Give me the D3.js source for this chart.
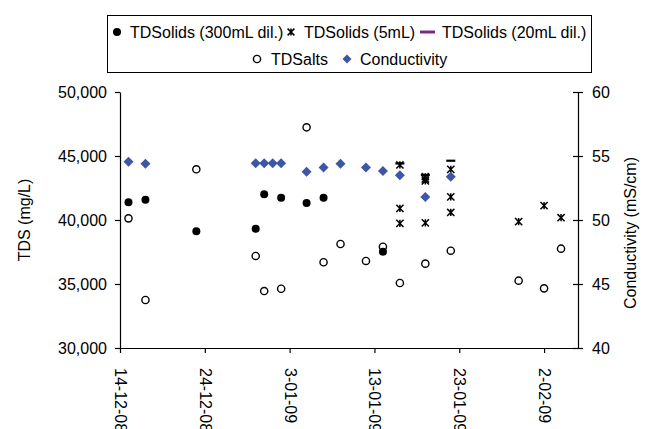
<!DOCTYPE html>
<html>
<head>
<meta charset="utf-8">
<script src="https://cdn.jsdelivr.net/npm/d3@7"></script>
<style>
  body { margin: 0; background: #fff; }
  svg text { font-family: "Liberation Sans", Arial, sans-serif; fill: #000; }
</style>
</head>
<body>
<div id="chart"></div>
<script>
// sample dates and readings
const solids300Dates = ['2008-12-15', '2008-12-17', '2008-12-23', '2008-12-30', '2008-12-31', '2009-01-02', '2009-01-05', '2009-01-07', '2009-01-14'];
const solids300Values = [41380, 41590, 39120, 39320, 42010, 41740, 41330, 41740, 37520];

const solids5Dates = ['2009-01-16', '2009-01-16', '2009-01-16', '2009-01-19', '2009-01-19', '2009-01-19', '2009-01-19', '2009-01-22', '2009-01-22', '2009-01-22', '2009-01-30', '2009-02-02', '2009-02-04'];
const solids5Values = [44300, 40910, 39740, 43380, 43200, 43050, 39770, 43960, 41810, 40590, 39870, 41120, 40180];

const solids20Dates = ['2009-01-16', '2009-01-19', '2009-01-22'];
const solids20Values = [44420, 43520, 44630];

const saltsDates = ['2008-12-15', '2008-12-17', '2008-12-23', '2008-12-30', '2008-12-31', '2009-01-02', '2009-01-05', '2009-01-07', '2009-01-09', '2009-01-12', '2009-01-14', '2009-01-16', '2009-01-19', '2009-01-22', '2009-01-30', '2009-02-02', '2009-02-04'];
const saltsValues = [40130, 33750, 43960, 37190, 34450, 34630, 47240, 36700, 38125, 36800, 37910, 35080, 36590, 37600, 35260, 34660, 37760];

const condDates = ['2008-12-15', '2008-12-17', '2008-12-30', '2008-12-31', '2009-01-01', '2009-01-02', '2009-01-05', '2009-01-07', '2009-01-09', '2009-01-12', '2009-01-14', '2009-01-16', '2009-01-19', '2009-01-22'];
const condValues = [54.56, 54.4, 54.43, 54.43, 54.43, 54.43, 53.77, 54.1, 54.4, 54.1, 53.83, 53.5, 51.8, 53.38];

const tdsTicks = [30000, 35000, 40000, 45000, 50000];
const condTicks = [40, 45, 50, 55, 60];
const dateTicks = ['2008-12-14', '2008-12-24', '2009-01-03', '2009-01-13', '2009-01-23', '2009-02-02'];

const parse = d3.utcParse('%Y-%m-%d');
const zip = (ds, vs) => ds.map((d, i) => ({ date: parse(d), value: vs[i] }));

const width = 646, height = 429;
const margin = { top: 92, right: 68, bottom: 81, left: 120 };
const innerW = width - margin.left - margin.right,
  innerH = height - margin.top - margin.bottom;

const svg = d3.select('#chart').append('svg')
  .attr('width', width)
  .attr('height', height);

const g = svg.append('g')
  .attr('transform', 'translate(' + margin.left + ',' + margin.top + ')');

// X function()
const x = d3.scaleUtc()
  .domain([parse('2008-12-14'), parse('2009-02-06')])
  .range([0, innerW]);

// Y functions()
const y = d3.scaleLinear().domain([30000, 50000]).range([innerH, 0]);
const y2 = d3.scaleLinear().domain([40, 60]).range([innerH, 0]);

const fmtDate = d3.utcFormat('%-d-%m-%y');

// bottom axis
const xAxis = g.append('g')
  .attr('transform', 'translate(0,' + innerH + ')')
  .call(d3.axisBottom(x).tickValues(dateTicks.map(parse)).tickFormat(fmtDate).tickSize(5).tickSizeOuter(0));
xAxis.selectAll('text')
  .attr('font-size', 16)
  .attr('transform', 'rotate(90)')
  .attr('x', 20)
  .attr('y', 0)
  .attr('dy', '0.35em')
  .style('text-anchor', 'start');

// left axis
const yAxis = g.append('g')
  .call(d3.axisLeft(y).tickValues(tdsTicks).tickFormat(d3.format(',')).tickSize(5).tickSizeOuter(0));
yAxis.selectAll('text').attr('font-size', 16).attr('x', -13);

// right axis
const y2Axis = g.append('g')
  .attr('transform', 'translate(' + innerW + ',0)')
  .call(d3.axisRight(y2).tickValues(condTicks).tickSize(5).tickSizeOuter(0));
y2Axis.selectAll('.tick line').attr('x1', -5);
y2Axis.selectAll('text').attr('font-size', 16).attr('x', 14);

g.selectAll('.domain, .tick line').attr('stroke', '#000').attr('stroke-width', 1.2);

// axis titles
svg.append('text')
  .attr('transform', 'translate(30,220) rotate(-90)')
  .attr('text-anchor', 'middle')
  .attr('font-size', 16)
  .text('TDS (mg/L)');

svg.append('text')
  .attr('transform', 'translate(636,233) rotate(-90)')
  .attr('text-anchor', 'middle')
  .attr('font-size', 16)
  .text('Conductivity (mS/cm)');

// marker shapes
const starPath = s => `M${-s},${-s}L${s},${s}M${-s},${s}L${s},${-s}M0,${-s}L0,${s}`;
const diamondPath = r => `M0,${-r}L${r},0L0,${r}L${-r},0Z`;
const blue = '#3d57a6';

g.selectAll('.salts')
  .data(zip(saltsDates, saltsValues))
  .enter().append('circle')
  .attr('class', 'salts')
  .attr('cx', d => x(d.date))
  .attr('cy', d => y(d.value))
  .attr('r', 3.6)
  .attr('fill', '#fff')
  .attr('stroke', '#000')
  .attr('stroke-width', 1.4);

g.selectAll('.s300')
  .data(zip(solids300Dates, solids300Values))
  .enter().append('circle')
  .attr('class', 's300')
  .attr('cx', d => x(d.date))
  .attr('cy', d => y(d.value))
  .attr('r', 4)
  .attr('fill', '#000');

g.selectAll('.s5')
  .data(zip(solids5Dates, solids5Values))
  .enter().append('path')
  .attr('class', 's5')
  .attr('d', starPath(3.6))
  .attr('transform', d => 'translate(' + x(d.date) + ',' + y(d.value) + ')')
  .attr('fill', 'none')
  .attr('stroke', '#000')
  .attr('stroke-width', 1.5);

g.selectAll('.s20')
  .data(zip(solids20Dates, solids20Values))
  .enter().append('line')
  .attr('class', 's20')
  .attr('x1', d => x(d.date) - 4.5)
  .attr('x2', d => x(d.date) + 4.5)
  .attr('y1', d => y(d.value))
  .attr('y2', d => y(d.value))
  .attr('stroke', '#000')
  .attr('stroke-width', 2.2);

g.selectAll('.cond')
  .data(zip(condDates, condValues))
  .enter().append('path')
  .attr('class', 'cond')
  .attr('d', diamondPath(5))
  .attr('transform', d => 'translate(' + x(d.date) + ',' + y2(d.value) + ')')
  .attr('fill', blue);

// legend
const legend = svg.append('g');
legend.append('rect')
  .attr('x', 107.5).attr('y', 15.5)
  .attr('width', 484).attr('height', 57)
  .attr('fill', '#fff').attr('stroke', '#000').attr('stroke-width', 1);

const legendItems = [
  { label: 'TDSolids (300mL dil.)', mx: 117, tx: 130, y: 32, kind: 'dot' },
  { label: 'TDSolids (5mL)', mx: 291, tx: 304, y: 32, kind: 'star' },
  { label: 'TDSolids (20mL dil.)', mx: 428, tx: 442, y: 32, kind: 'line' },
  { label: 'TDSalts', mx: 257, tx: 271, y: 59, kind: 'ring' },
  { label: 'Conductivity', mx: 347, tx: 360, y: 59, kind: 'diamond' }
];

legendItems.forEach(it => {
  const m = legend.append('g').attr('transform', 'translate(' + it.mx + ',' + it.y + ')');
  if (it.kind === 'dot') m.append('circle').attr('r', 4).attr('fill', '#000');
  if (it.kind === 'ring') m.append('circle').attr('r', 3.6).attr('fill', '#fff').attr('stroke', '#000').attr('stroke-width', 1.4);
  if (it.kind === 'star') m.append('path').attr('d', starPath(3.4)).attr('stroke', '#000').attr('stroke-width', 1.5);
  if (it.kind === 'line') m.append('line').attr('x1', -8).attr('x2', 7).attr('stroke', '#7a2a82').attr('stroke-width', 3);
  if (it.kind === 'diamond') m.append('path').attr('d', diamondPath(4.5)).attr('fill', blue);
  legend.append('text')
    .attr('x', it.tx).attr('y', it.y)
    .attr('dy', '0.35em')
    .attr('font-size', 16)
    .text(it.label);
});
</script>
</body>
</html>
